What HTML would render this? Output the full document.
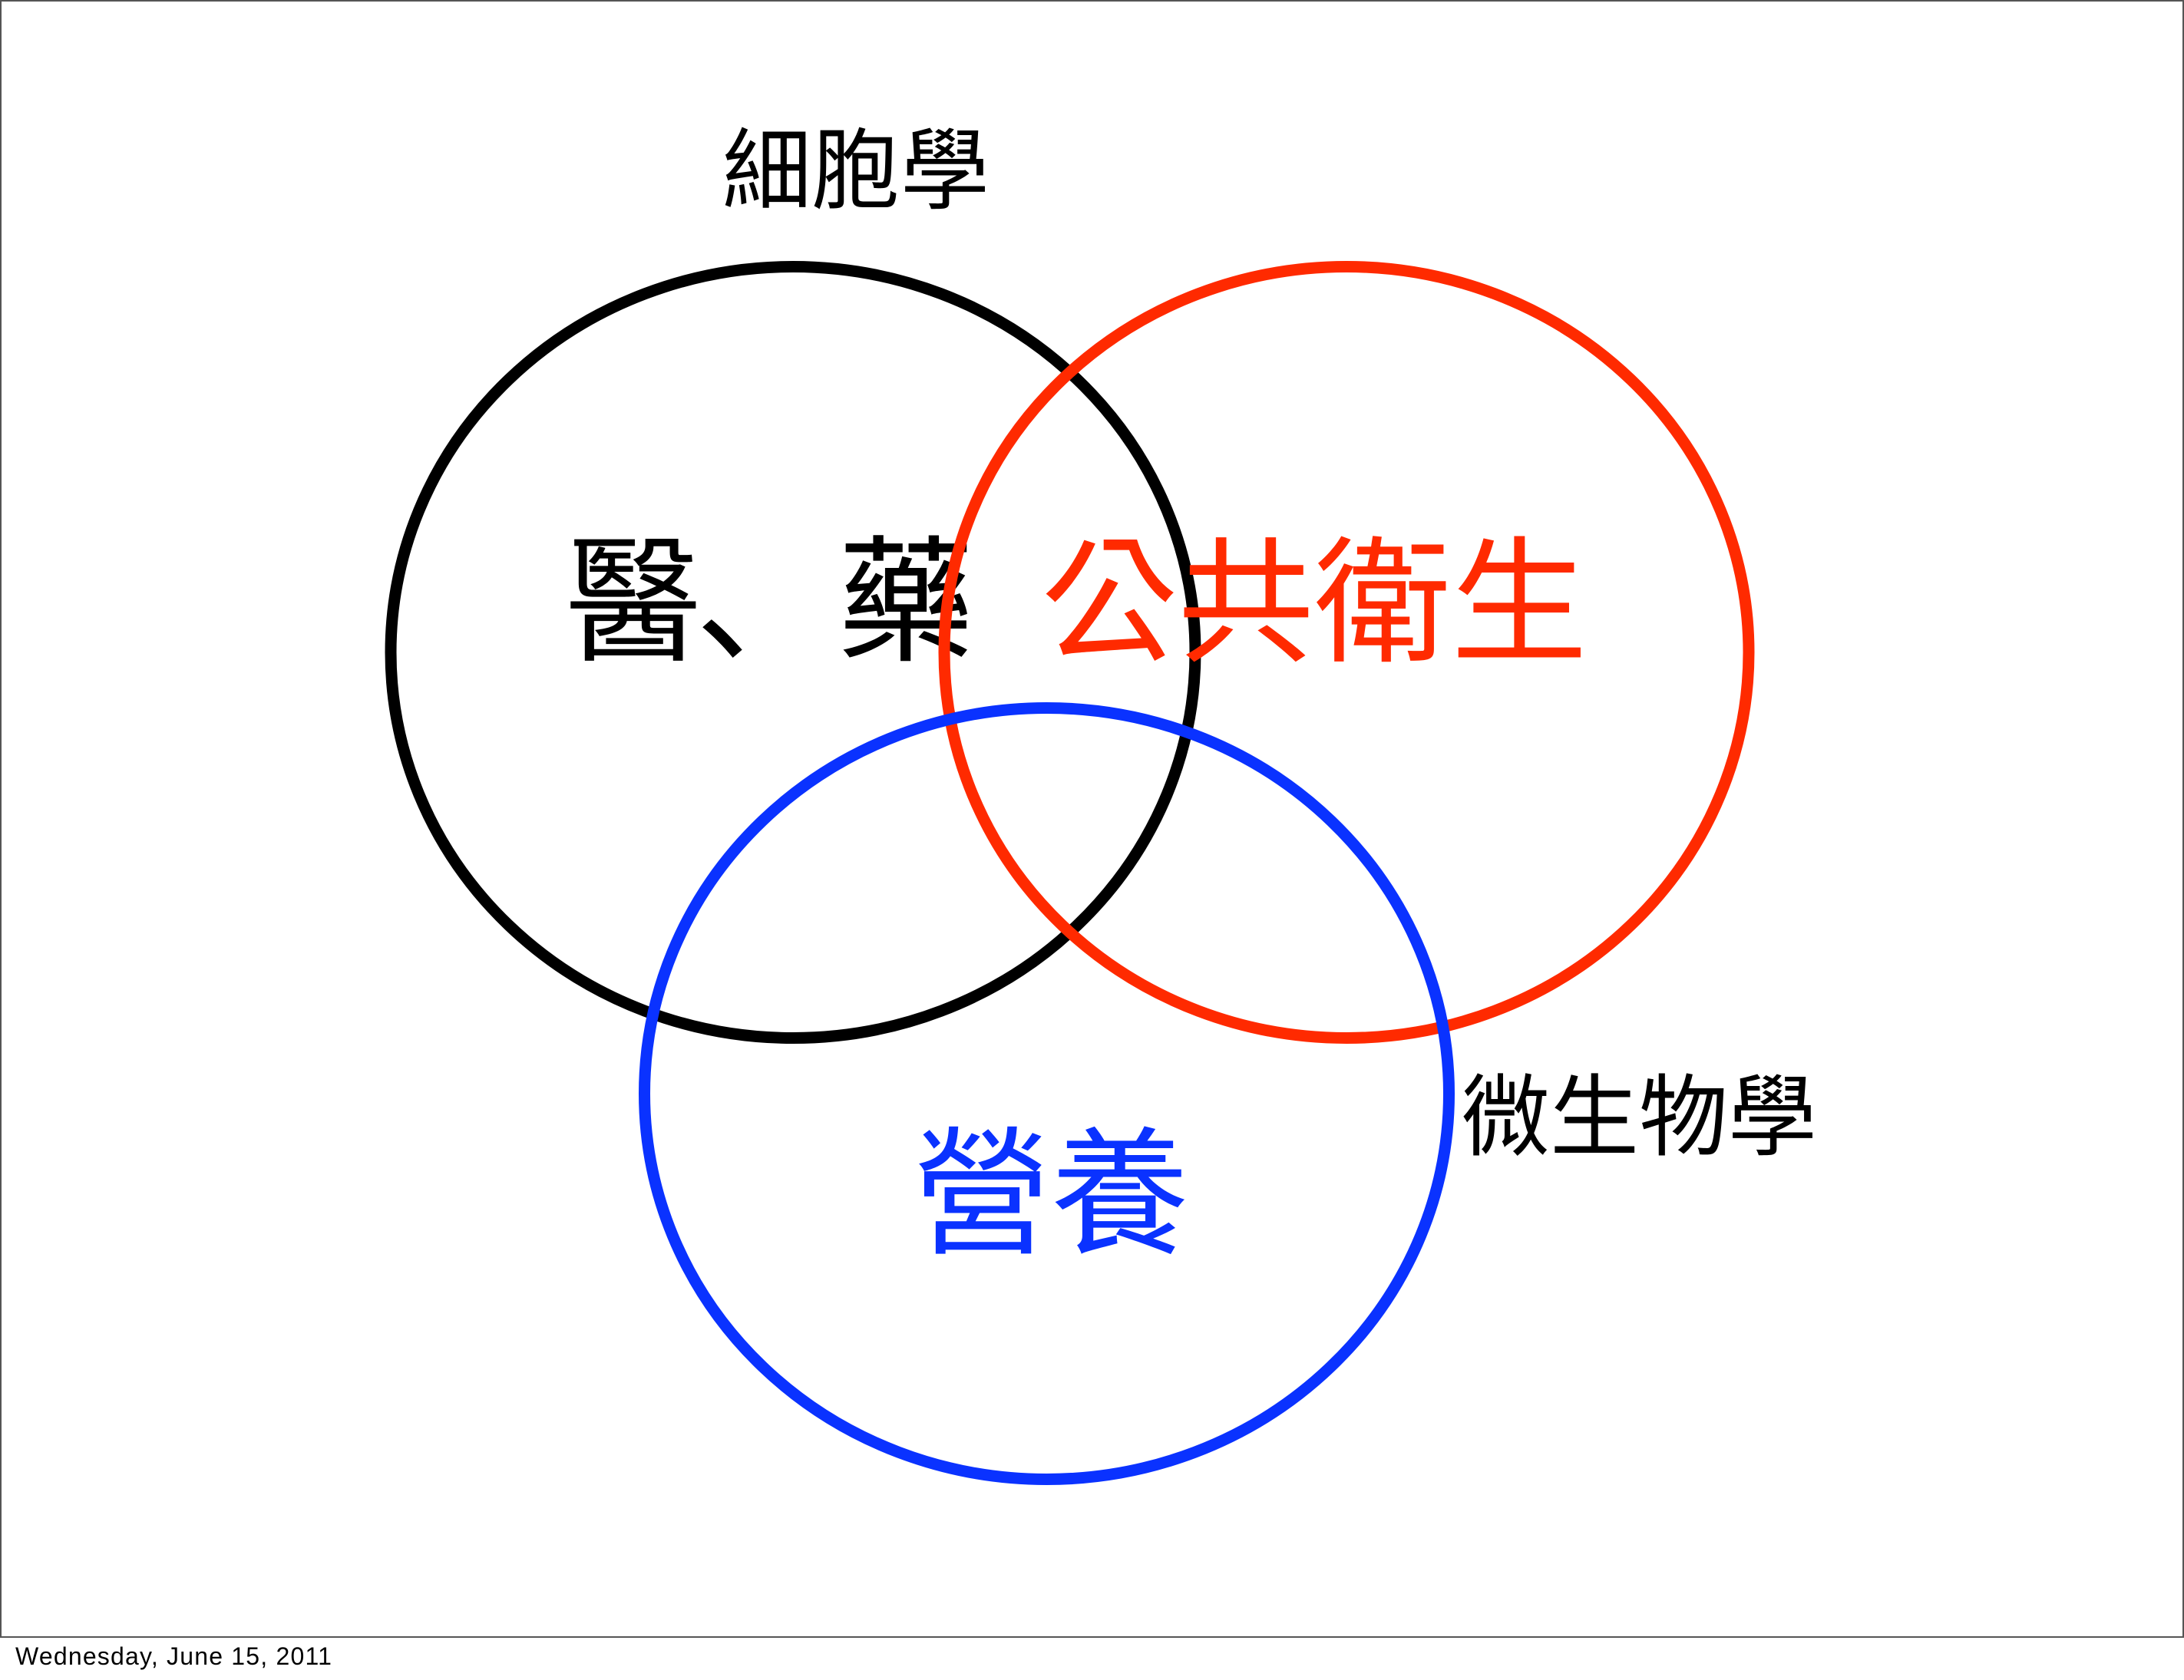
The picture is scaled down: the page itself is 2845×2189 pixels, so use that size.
<!DOCTYPE html>
<html><head><meta charset="utf-8"><style>
html,body{margin:0;padding:0;background:#fff}
svg{display:block}
.c{font-family:"Liberation Sans","Noto Sans CJK TC",sans-serif}
.j{font-family:"Liberation Sans","Noto Sans CJK JP",sans-serif}
</style></head><body>
<svg width="2845" height="2189" viewBox="0 0 2845 2189" xmlns="http://www.w3.org/2000/svg">
<rect width="2845" height="2189" fill="#fff"/>
<rect x="1" y="1" width="2843" height="2132" fill="none" stroke="#555" stroke-width="2"/>
<text class="c" x="941" y="263" font-size="116" lang="zh-TW">細胞學</text>
<text class="c" x="1903" y="1496" font-size="116" lang="zh-TW">微生物學</text>
<ellipse cx="1033" cy="850" rx="524" ry="502.5" fill="none" stroke="#000" stroke-width="15"/>
<text class="c" x="736" y="847" font-size="178" lang="zh-TW">醫</text>
<text class="j" x="906" y="847" font-size="178" lang="ja">、</text>
<text class="c" x="1091" y="847" font-size="178" lang="zh-TW">藥</text>
<text class="c" x="1356" y="848" font-size="178" fill="#ff2a00" lang="zh-TW">公共衛生</text>
<ellipse cx="1754" cy="850" rx="524" ry="502.5" fill="none" stroke="#ff2a00" stroke-width="15"/>
<ellipse cx="1363.5" cy="1425" rx="524" ry="502.5" fill="none" stroke="#0a32ff" stroke-width="15"/>
<text class="c" x="1189" y="1619" font-size="180" fill="#0a32ff" lang="zh-TW">營養</text>
<text x="20" y="2169" font-family="Liberation Sans, sans-serif" font-size="32" letter-spacing="1.2" fill="#000">Wednesday, June 15, 2011</text>
</svg>
</body></html>
